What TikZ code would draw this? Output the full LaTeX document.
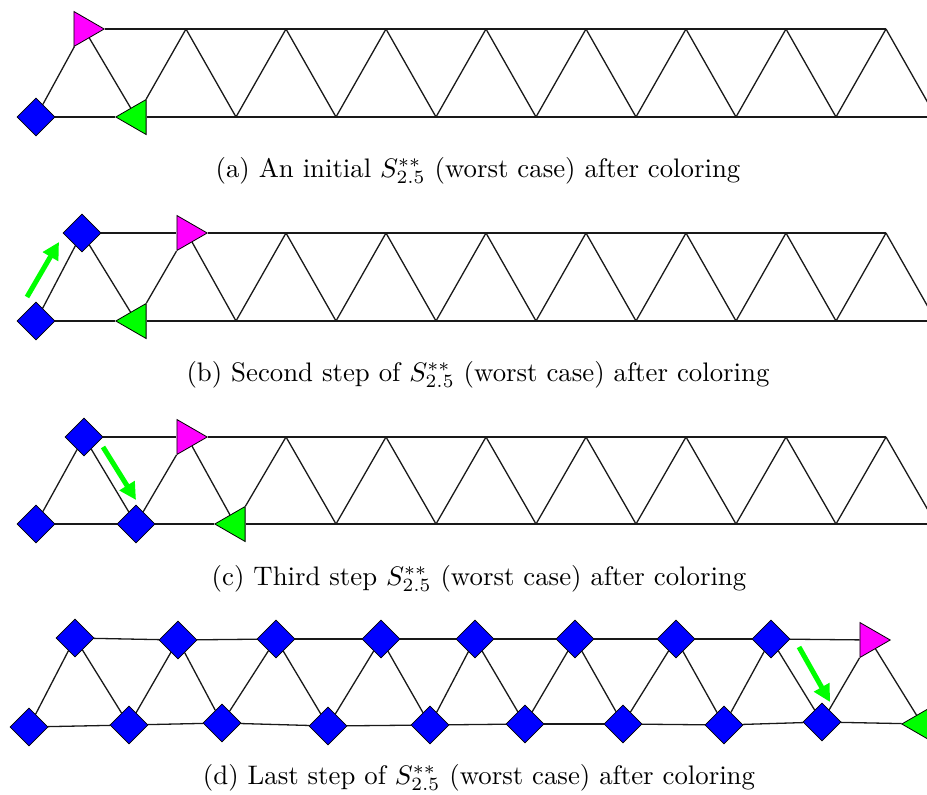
\documentclass[tikz,border=0pt]{standalone}
\usetikzlibrary{shapes.geometric,arrows.meta,backgrounds}
\definecolor{vblue}{RGB}{0,0,255}
\definecolor{vmag}{RGB}{255,0,255}
\definecolor{vgreen}{RGB}{0,255,0}
\tikzset{
  linkline/.style={line width=1.3pt, black!90},
  bdia/.style={shape=diamond, draw=black, line width=0.8pt, fill=vblue, inner sep=0pt, minimum width=38pt, minimum height=38pt},
  mtri/.style={regular polygon, regular polygon sides=3, shape border rotate=-90, draw=black, line width=0.8pt, fill=vmag, inner sep=0pt, minimum size=40.4pt},
  gtri/.style={regular polygon, regular polygon sides=3, shape border rotate=90, draw=black, line width=0.8pt, fill=vgreen, inner sep=0pt, minimum size=40.4pt},
  movearrow/.style={line width=5pt, vgreen, -{Triangle[length=17pt,width=17pt]}},
  captext/.style={anchor=base, scale=2.68, inner sep=0pt},
}
\begin{document}
\begin{tikzpicture}[x=1pt,y=-1pt]
\useasboundingbox (0,0) rectangle (927,795);

% ---------- panel (a)
\node[bdia] (a-b0) at (36,117) {};
\node[mtri] (a-t0) at (84,29) {};
\node[gtri] (a-b1) at (136,117) {};
\foreach \k in {1,...,8} \coordinate (a-t\k) at ({86+100*\k},29);
\foreach \k in {2,...,9} \coordinate (a-b\k) at ({36+100*\k},117);

% ---------- panel (b)
\node[bdia] (b-b0) at (36,321) {};
\node[bdia] (b-t0) at (82,233) {};
\node[mtri] (b-t1) at (187,233) {};
\node[gtri] (b-b1) at (136,321) {};
\foreach \k in {2,...,8} \coordinate (b-t\k) at ({86+100*\k},233);
\foreach \k in {2,...,9} \coordinate (b-b\k) at ({36+100*\k},321);
\coordinate (b-m1) at (27,297);
\coordinate (b-m2) at (59,242);

% ---------- panel (c)
\node[bdia] (c-b0) at (36,524) {};
\node[bdia] (c-t0) at (84,437) {};
\node[bdia] (c-b1) at (136,524) {};
\node[mtri] (c-t1) at (187,437) {};
\node[gtri] (c-b2) at (235,524) {};
\foreach \k in {2,...,8} \coordinate (c-t\k) at ({86+100*\k},437);
\foreach \k in {3,...,9} \coordinate (c-b\k) at ({36+100*\k},524);
\coordinate (c-m1) at (103,447);
\coordinate (c-m2) at (136,500);

% ---------- panel (d)
\foreach \k/\x/\y in {0/75/638, 1/178/640, 2/276/639, 3/381/639, 4/475/639, 5/575/639, 6/676/639, 7/771/639}
  \node[bdia] (d-t\k) at (\x,\y) {};
\node[mtri] (d-t8) at (870,640) {};
\foreach \k/\x/\y in {0/29/727, 1/129/725, 2/222/723, 3/328/726, 4/430/725, 5/525/724, 6/623/724, 7/724/725, 8/822/722}
  \node[bdia] (d-b\k) at (\x,\y) {};
\node[gtri] (d-b9) at (922,724) {};
\coordinate (d-m1) at (799,647);
\coordinate (d-m2) at (830,702);

% ---------- edges
\begin{scope}[on background layer]
\foreach \p in {a,b,c,d}{
  \foreach \k [evaluate=\k as \n using int(\k+1)] in {0,...,7}
    \draw[linkline] (\p-t\k) -- (\p-t\n);
  \foreach \k [evaluate=\k as \n using int(\k+1)] in {0,...,8}{
    \draw[linkline] (\p-b\k) -- (\p-b\n);
    \draw[linkline] (\p-b\k) -- (\p-t\k);
    \draw[linkline] (\p-t\k) -- (\p-b\n);
  }
}
\end{scope}

% ---------- moves
\draw[movearrow] (b-m1) -- (b-m2);
\draw[movearrow] (c-m1) -- (c-m2);
\draw[movearrow] (d-m1) -- (d-m2);

% ---------- captions
\node[captext] (capa) at (478,177) {(a) An initial $S^{**}_{2.5}$ (worst case) after coloring};
\node[captext] (capb) at (478,381) {(b) Second step of $S^{**}_{2.5}$ (worst case) after coloring};
\node[captext] (capc) at (479,585) {(c) Third step $S^{**}_{2.5}$ (worst case) after coloring};
\node[captext] (capd) at (479,784) {(d) Last step of $S^{**}_{2.5}$ (worst case) after coloring};
\end{tikzpicture}
\end{document}
